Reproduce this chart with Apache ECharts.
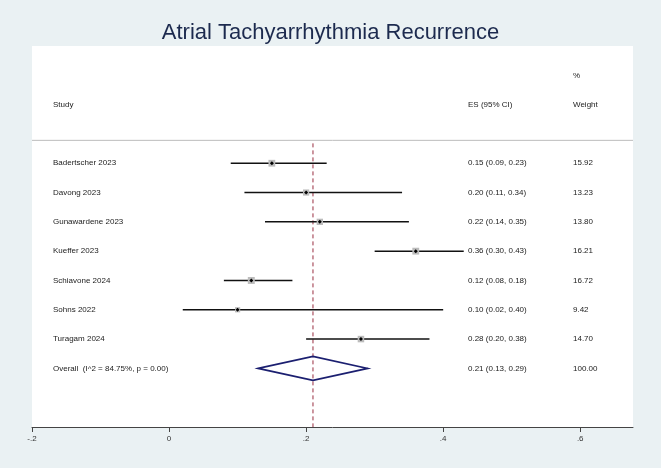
<!DOCTYPE html>
<html>
<head>
<meta charset="utf-8">
<script src="https://cdn.jsdelivr.net/npm/echarts@6/dist/echarts.min.js"></script>
<style>
  html,body{margin:0;padding:0;background:#fff;}
  #main{width:661px;height:468px;}
</style>
</head>
<body>
<div id="main"></div>
<script>
"use strict";

// study rows
var studies=['Badertscher 2023','Davong 2023','Gunawardene 2023','Kueffer 2023','Schiavone 2024','Sohns 2022','Turagam 2024'];
var es=[0.15,0.20,0.22,0.36,0.12,0.10,0.28];
var lo=[0.09,0.11,0.14,0.30,0.08,0.02,0.20];
var hi=[0.23,0.34,0.35,0.43,0.18,0.40,0.38];
var weights=[15.92,13.23,13.80,16.21,16.72,9.42,14.70];

// pooled estimate
var overallLabel='Overall  (I^2 = 84.75%, p = 0.00)';
var overallES=[0.21,0.13,0.29];
var overallWeight=100.00;

var FONT='"Liberation Sans", Arial, sans-serif';
var TXT='#222';

function fmt(v){return v.toFixed(2);}
function ciText(e,l,h){return fmt(e)+' ('+fmt(l)+', '+fmt(h)+')';}
function tickLabel(v){
  v=Math.round(v*10)/10;
  if (v===0) return '0';
  return (v<0?'-':'')+String(Math.abs(v)).replace(/^0/,'');
}

var rows=studies.map(function(s,i){return [i,lo[i],es[i],hi[i],weights[i]];});
var nRow=studies.length;

// text column offsets from grid left
var COL_STUDY=21, COL_ES=436, COL_W=541;

var chart=echarts.init(document.getElementById('main'));

function textEl(x,y,str){
  return {type:'text',x:x,y:y,style:{text:str,fill:TXT,font:'8px '+FONT,textVerticalAlign:'middle'}};
}

var option={
  backgroundColor:'#eaf1f3',
  animation:false,
  title:{
    text:'Atrial Tachyarrhythmia Recurrence',
    left:'center',top:17,
    textStyle:{fontFamily:FONT,fontSize:22,fontWeight:'normal',color:'#1c2a4e'}
  },
  grid:{left:32,right:28,top:46,bottom:41,show:true,backgroundColor:'#fff',borderWidth:0},
  xAxis:{
    type:'value',min:-0.2,max:0.677,interval:0.2,
    axisLine:{onZero:false,lineStyle:{color:'#444',width:1}},
    axisTick:{length:5,lineStyle:{color:'#444'}},
    axisLabel:{formatter:tickLabel,showMaxLabel:false,color:'#333',fontSize:8,fontFamily:FONT,margin:8},
    splitLine:{show:false}
  },
  yAxis:{type:'value',inverse:true,min:-4,max:9,show:false},
  series:[
    {
      // header texts, header rule and null line
      type:'custom',
      data:[[0]],
      renderItem:function(params,api){
        var cs=params.coordSys;
        var yRule=api.coord([0,-0.78])[1];
        var yHead=api.coord([0,-2])[1];
        var yPct=api.coord([0,-3])[1];
        var xRef=api.coord([overallES[0],0])[0];
        var yBot=api.coord([0,9])[1];
        return {type:'group',children:[
          textEl(cs.x+COL_STUDY,yHead,'Study'),
          textEl(cs.x+COL_ES,yHead,'ES (95% CI)'),
          textEl(cs.x+COL_W,yPct,'%'),
          textEl(cs.x+COL_W,yHead,'Weight'),
          {type:'line',shape:{x1:cs.x,y1:yRule,x2:cs.x+cs.width,y2:yRule},style:{stroke:'#bdbdbd',lineWidth:1}},
          {type:'line',shape:{x1:xRef,y1:yRule+3,x2:xRef,y2:yBot},style:{stroke:'#9a2e40',lineWidth:1,lineDash:[4,3]}}
        ]};
      }
    },
    {
      type:'custom',
      data:rows,
      renderItem:function(params,api){
        var cs=params.coordSys;
        var i=api.value(0);
        var pL=api.coord([api.value(1),i]);
        var pE=api.coord([api.value(2),i]);
        var pH=api.coord([api.value(3),i]);
        var side=1.7*Math.sqrt(api.value(4));
        var y=pE[1];
        return {type:'group',children:[
          {type:'line',shape:{x1:pL[0],y1:y,x2:pH[0],y2:y},style:{stroke:'#111',lineWidth:1.5}},
          {type:'rect',shape:{x:pE[0]-side/2,y:y-side/2,width:side,height:side},style:{fill:'#bcbcbc'}},
          {type:'polygon',shape:{points:[[pE[0]-2,y],[pE[0],y-2],[pE[0]+2,y],[pE[0],y+2]]},style:{fill:'#000'}},
          textEl(cs.x+COL_STUDY,y,studies[i]),
          textEl(cs.x+COL_ES,y,ciText(es[i],lo[i],hi[i])),
          textEl(cs.x+COL_W,y,weights[i].toFixed(2))
        ]};
      }
    },
    {
      type:'custom',
      data:[[nRow].concat(overallES)],
      renderItem:function(params,api){
        var cs=params.coordSys;
        var r=api.value(0);
        var pE=api.coord([api.value(1),r]);
        var pL=api.coord([api.value(2),r]);
        var pH=api.coord([api.value(3),r]);
        var y=pE[1];
        var h=12;
        return {type:'group',children:[
          {type:'polygon',shape:{points:[[pL[0],y],[pE[0],y-h],[pH[0],y],[pE[0],y+h]]},
            style:{fill:'none',stroke:'#1b1f70',lineWidth:1.6}},
          textEl(cs.x+COL_STUDY,y,overallLabel),
          textEl(cs.x+COL_ES,y,ciText(overallES[0],overallES[1],overallES[2])),
          textEl(cs.x+COL_W,y,overallWeight.toFixed(2))
        ]};
      }
    }
  ]
};

chart.setOption(option);
</script>
</body>
</html>
